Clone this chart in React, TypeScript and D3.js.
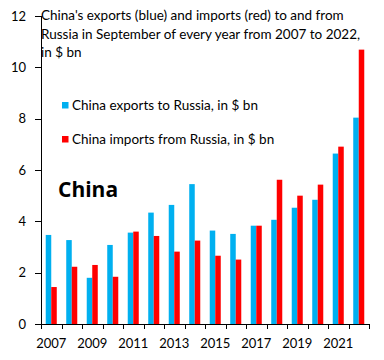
import React from 'react';
import * as d3 from 'd3';

// Data, $ bn, September of each year
const years = [2007, 2008, 2009, 2010, 2011, 2012, 2013, 2014, 2015, 2016, 2017, 2018, 2019, 2020, 2021, 2022];
const exportsToRussia = [3.47, 3.27, 1.8, 3.08, 3.56, 4.34, 4.64, 5.45, 3.64, 3.51, 3.83, 4.06, 4.53, 4.84, 6.64, 8.04];
const importsFromRussia = [1.44, 2.23, 2.3, 1.84, 3.6, 3.43, 2.82, 3.25, 2.66, 2.51, 3.83, 5.62, 5.0, 5.43, 6.91, 10.69];
const yTicks = [0, 2, 4, 6, 8, 10, 12];
const xLabelYears = [2007, 2009, 2011, 2013, 2015, 2017, 2019, 2021];
const titleLines = [
  "China's exports (blue) and imports (red) to and from",
  'Russia in September of every year from 2007 to 2022,',
  'in $ bn',
];
const seriesNames = ['China exports to Russia, in $ bn', 'China imports from Russia, in $ bn'];

const BLUE = '#00B0F0';
const RED = '#FF0000';
const FONT = 'Lato, "Open Sans", sans-serif';

const App = () => {
  // Dimensions
  const width = 384;
  const height = 360;
  const left = 41;
  const right = 369;
  const top = 16;
  const bottom = 324;

  const x = d3.scaleBand<number>().domain(years).range([left, right]).paddingInner(0).paddingOuter(0);
  const inner = d3.scaleBand<string>()
    .domain(['exp', 'imp'])
    .range([0, x.bandwidth()])
    .paddingInner(0)
    .paddingOuter(0.86);
  const y = d3.scaleLinear().domain([0, 12]).range([bottom, top]);

  const boundaries = years.map(yr => x(yr) as number).concat([right]);

  return (
    <div style={{ position: 'absolute', left: 0, top: 0 }}>
      <svg width={width} height={height} style={{ display: 'block', background: '#fff' }}>
        {/* bars */}
        {years.map((yr, i) => (
          <g key={yr} transform={`translate(${x(yr)},0)`}>
            <rect
              x={inner('exp')}
              y={y(exportsToRussia[i])}
              width={inner.bandwidth()}
              height={y(0) - y(exportsToRussia[i])}
              fill={BLUE}
            />
            <rect
              x={inner('imp')}
              y={y(importsFromRussia[i])}
              width={inner.bandwidth()}
              height={y(0) - y(importsFromRussia[i])}
              fill={RED}
            />
          </g>
        ))}

        {/* y axis */}
        <line x1={left + 0.5} x2={left + 0.5} y1={top} y2={bottom} stroke="#000" />
        {yTicks.map(t => (
          <g key={t}>
            <line x1={left - 6} x2={left} y1={Math.round(y(t)) + 0.5} y2={Math.round(y(t)) + 0.5} stroke="#000" />
            <text x={26} y={y(t)} dy="0.35em" textAnchor="end" fontFamily={FONT} fontSize={13} fill="#000">
              {t}
            </text>
          </g>
        ))}

        {/* x axis */}
        <line x1={left} x2={right + 0.5} y1={bottom + 0.5} y2={bottom + 0.5} stroke="#000" />
        {boundaries.map((bx, i) => (
          <line key={i} x1={Math.round(bx) + 0.5} x2={Math.round(bx) + 0.5} y1={bottom} y2={bottom + 5} stroke="#000" />
        ))}
        {xLabelYears.map(yr => (
          <text
            key={yr}
            x={(x(yr) as number) + x.bandwidth() / 2}
            y={348}
            textAnchor="middle"
            fontFamily={FONT}
            fontSize={13}
            fill="#000"
          >
            {yr}
          </text>
        ))}

        {/* title */}
        {titleLines.map((line, i) => (
          <text key={i} x={41} y={20 + i * 18.5} fontFamily={FONT} fontSize={13.5} fill="#000">
            {line}
          </text>
        ))}

        {/* legend */}
        {seriesNames.map((name, i) => (
          <g key={name} transform={`translate(62,${102 + i * 34})`}>
            <rect x={0} y={0} width={6.5} height={6.5} fill={i === 0 ? BLUE : RED} />
            <text x={10} y={7.5} fontFamily={FONT} fontSize={13.5} fill="#000">
              {name}
            </text>
          </g>
        ))}

        {/* big label */}
        <text x={58} y={197} fontFamily='"Open Sans", sans-serif' fontSize={21} fontWeight="bold" fill="#000">
          China
        </text>
      </svg>
    </div>
  );
};

export default App;
